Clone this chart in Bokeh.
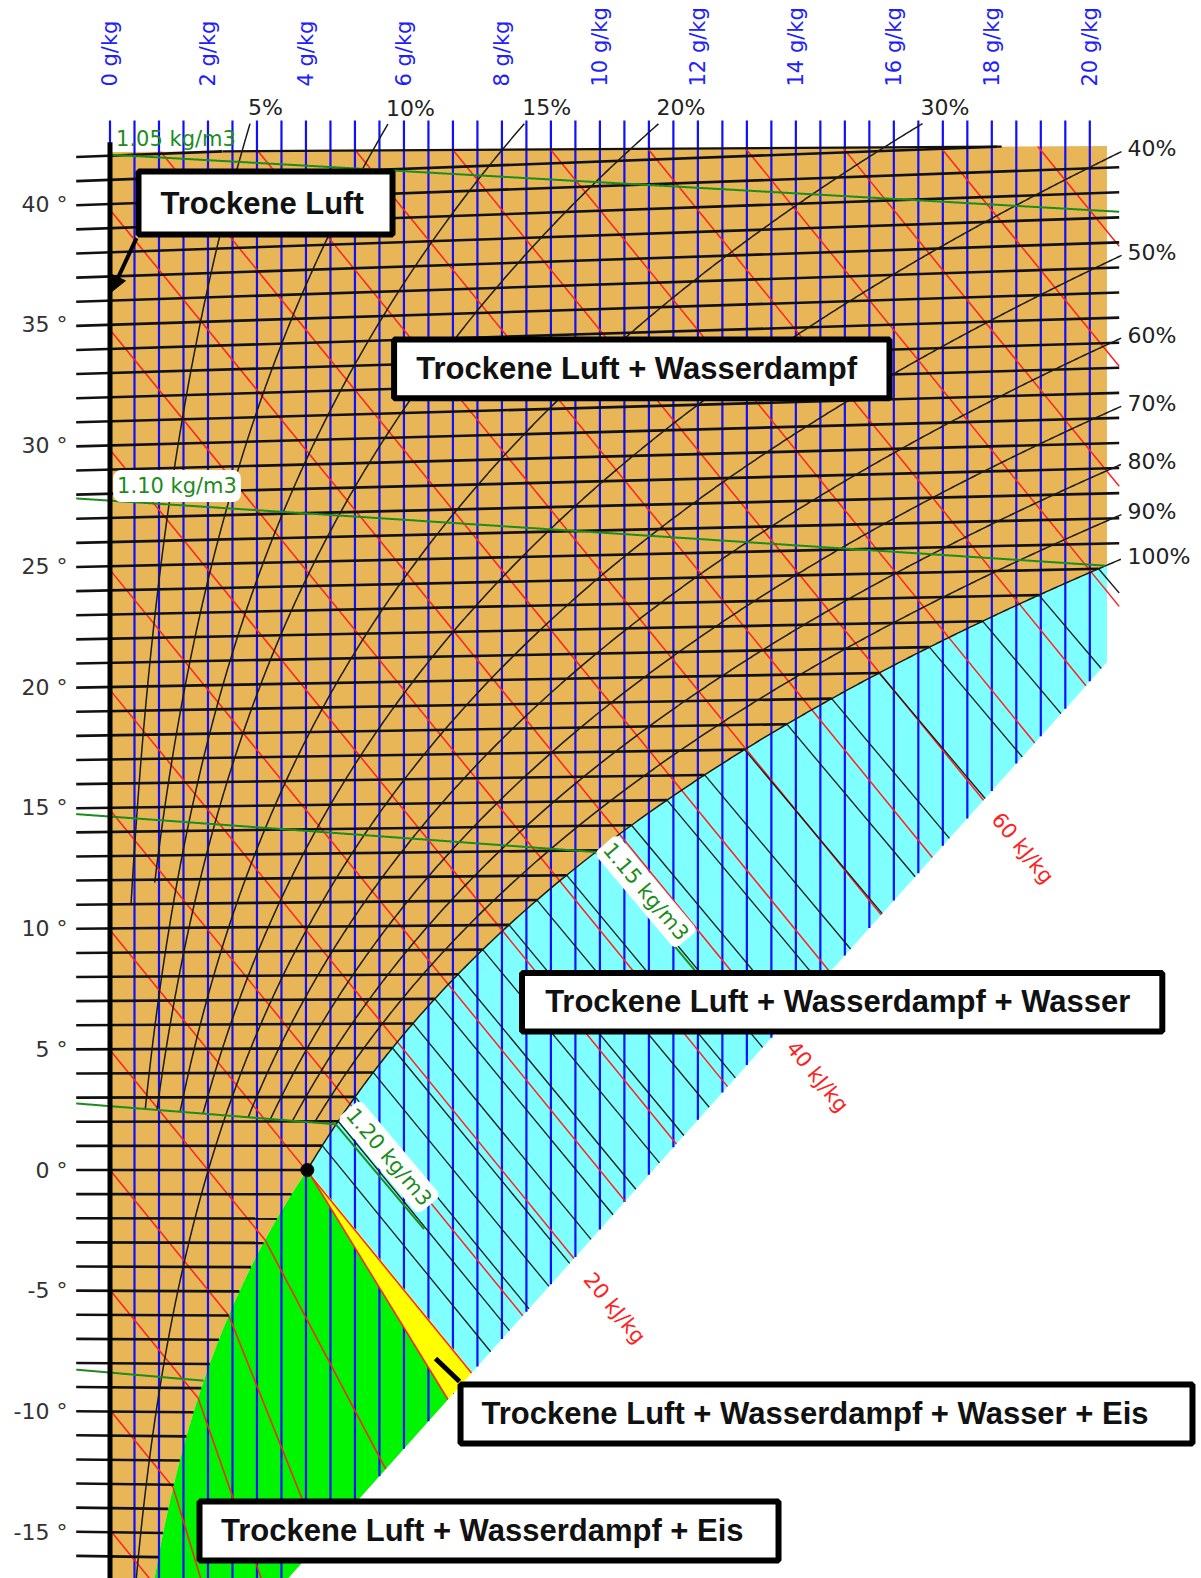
import math
import numpy as np
from bokeh.plotting import figure
from bokeh.models import Range1d, FixedTicker, Arrow, NormalHead
from bokeh.core.properties import value
from bokeh.embed import file_html
from bokeh.resources import INLINE

# ------------------------------------------------------------------ data
pressure_hpa = 950.0

# saturation vapour pressure tables (hPa)
sat_temp_water = list(range(-18, 46))
sat_press_water = [1.494, 1.625, 1.767, 1.918, 2.083, 2.259, 2.448, 2.652, 2.870,
                   3.105, 3.356, 3.625, 3.913, 4.222, 4.552, 4.904, 5.281, 5.683,
                   6.112, 6.571, 7.060, 7.581, 8.135, 8.725, 9.353, 10.020, 10.729,
                   11.481, 12.280, 13.128, 14.026, 14.979, 15.987, 17.055, 18.185,
                   19.380, 20.643, 21.979, 23.389, 24.878, 26.448, 28.105, 29.852,
                   31.693, 33.633, 35.674, 37.823, 40.084, 42.462, 44.961, 47.586,
                   50.345, 53.242, 56.280, 59.468, 62.812, 66.315, 69.988, 73.834,
                   77.860, 82.075, 86.485, 91.097, 95.918]
sat_temp_ice = list(range(-18, 1))
sat_press_ice = [1.249, 1.372, 1.507, 1.653, 1.812, 1.985, 2.173, 2.377, 2.599,
                 2.839, 3.100, 3.382, 3.687, 4.018, 4.375, 4.761, 5.177, 5.627, 6.112]

humidity_ticks = [0, 2, 4, 6, 8, 10, 12, 14, 16, 18, 20]
humidity_grid = [0.0, 0.5, 1.0, 1.5, 2.0, 2.5, 3.0, 3.5, 4.0, 4.5, 5.0, 5.5, 6.0, 6.5,
                 7.0, 7.5, 8.0, 8.5, 9.0, 9.5, 10.0, 10.5, 11.0, 11.5, 12.0, 12.5,
                 13.0, 13.5, 14.0, 14.5, 15.0, 15.5, 16.0, 16.5, 17.0, 17.5, 18.0,
                 18.5, 19.0, 19.5, 20.0]
temperature_ticks = [-15, -10, -5, 0, 5, 10, 15, 20, 25, 30, 35, 40]
isotherm_temps = list(range(-16, 43))
fog_isotherm_temps = list(range(1, 25))

rh_levels = [5, 10, 15, 20, 30, 40, 50, 60, 70, 80, 90]
rh_top_labels = [5, 10, 15, 20, 30]
rh_right_labels = [40, 50, 60, 70, 80, 90]
rh_lower_end = {5: 11.0, 10: 11.9, 50: None}      # others end on the 1.20 kg/m3 line

density_levels = [1.05, 1.10, 1.15, 1.20, 1.25]
density_start = {1.05: 0.0}                       # others start at the tick column
density_fog_tail = {1.15: 2.2, 1.20: 1.8}         # g/kg length in the fog zone
density_fog_slope = -2.414

enthalpy_levels = list(range(-15, 95, 5))
enthalpy_labels = [20, 40, 60]
enthalpy_label_x = [10.30, 14.44, 18.63]
ice_fog_enthalpy = [5, 0, -5, -10]
ice_fog_slope = [-3.85, -5.07, -5.80, -6.7]
ice_edge_slope = -3.31

# chart outline (g/kg, temperature units)
chart_right = 20.35
line_end = 20.6
tick_start = -0.69
top_left_Y, top_right_Y = 42.15, 42.4
boundary_x = [3.633, 20.32]
boundary_Y = [-16.915, 20.96]
blue_top_Y = 43.46
rh_top_Y = 43.33
axis_top_Y = 42.56
Y_ext = -18.0

# ------------------------------------------------------------------ physics helpers
def ps_w(T):
    return np.exp(np.interp(T, sat_temp_water, np.log(sat_press_water)))


def ps_i(T):
    return np.exp(np.interp(T, sat_temp_ice, np.log(sat_press_ice)))


def x_of_pv(pv):
    return 622.0 * pv / (pressure_hpa - pv)


def Y_of(T, x):
    return T * (1.0 + 0.00186 * x / 1.006)


def Y_h(h, x):
    return (h - 2.501 * x) / 1.006


def T_rho(rho, x):
    xk = x / 1000.0
    return pressure_hpa * 100.0 * (1 + xk) / (287.05 * rho * (1 + 1.6078 * xk)) - 273.15


sb = (boundary_Y[1] - boundary_Y[0]) / (boundary_x[1] - boundary_x[0])


def Yb(x):
    return boundary_Y[0] + sb * (x - boundary_x[0])


def hit_boundary(x0, Y0, m):
    return (Y0 - m * x0 - boundary_Y[0] + sb * boundary_x[0]) / (sb - m)


def Ytop(x):
    return top_left_Y + (top_right_Y - top_left_Y) * x / chart_right


# saturation curves
Ti = np.arange(-18.0, 0.0001, 0.05)
xi = x_of_pv(ps_i(Ti))
Yi = Y_of(Ti, xi)
Tw = np.arange(0.0, 26.0, 0.02)
xw = x_of_pv(ps_w(Tw))
Yw = Y_of(Tw, xw)
x0p, Y0p = xw[0], Yw[0]
h0 = 2.501 * x0p
T_r = np.interp(chart_right, xw, Tw)
Y_r = Y_of(T_r, chart_right)
mw = xw <= chart_right

# ------------------------------------------------------------------ figure
W, H = 1201, 1578
FL, FT = 72, 92
x_left = (FL - 109.5) / 48.99
x_right = (W - 109.5) / 48.99
y_top = (1169.5 - FT) / 24.15
y_bottom = (1169.5 - H) / 24.15
ppx = (W - FL) / (x_right - x_left)
ppy = (H - FT) / (y_top - y_bottom)

p = figure(width=W, height=H, x_range=Range1d(x_left, x_right),
           y_range=Range1d(y_bottom, y_top), output_backend="svg",
           toolbar_location=None, x_axis_location="above",
           min_border_left=FL, min_border_right=0, min_border_top=FT,
           min_border_bottom=0)
p.grid.visible = False
p.outline_line_color = None
p.background_fill_color = "white"
p.border_fill_color = "white"

xa = p.xaxis[0]
xa.ticker = FixedTicker(ticks=humidity_ticks)
xa.major_label_overrides = {t: f"{t} g/kg" for t in humidity_ticks}
xa.major_label_orientation = math.pi / 2
xa.major_label_text_color = "#2020ff"
xa.major_label_text_font = "DejaVu Sans"
xa.major_label_text_font_size = "21px"
xa.major_label_standoff = 6
xa.major_tick_out = 0
xa.major_tick_in = 0
xa.minor_tick_out = 0
xa.minor_tick_in = 0
xa.major_tick_line_color = None
xa.minor_tick_line_color = None
xa.axis_line_color = None

ya = p.yaxis[0]
ya.ticker = FixedTicker(ticks=temperature_ticks)
ya.major_label_overrides = {t: f"{t} °" for t in temperature_ticks}
ya.major_label_text_color = "#333333"
ya.major_label_text_font = "DejaVu Sans"
ya.major_label_text_font_size = "22px"
ya.major_label_standoff = 5
ya.major_tick_out = 0
ya.major_tick_in = 0
ya.minor_tick_out = 0
ya.minor_tick_in = 0
ya.major_tick_line_color = None
ya.minor_tick_line_color = None
ya.axis_line_color = None

ORANGE = "#E8B656"
CYAN = "#80FFFF"
GREEN = "#00F500"
YELLOW = "#FFFF00"
BLUE = "#1010FF"
RED = "#FF2020"
DGREEN = "#1C8C1C"

# ---- regions
ox = [0.0, 0.0, chart_right, chart_right] + list(xw[mw][::-1]) + list(xi[::-1]) + [0.0]
oy = [Y_ext, top_left_Y, top_right_Y, Y_r] + list(Yw[mw][::-1]) + list(Yi[::-1]) + [Y_ext]
p.patch(ox, oy, fill_color=ORANGE, line_color=None)

xc_h0 = hit_boundary(x0p, Y0p, -2.501 / 1.006)
cx = list(xw[mw]) + [chart_right, chart_right, xc_h0]
cy = list(Yw[mw]) + [Y_r, Yb(chart_right), Yb(xc_h0)]
p.patch(cx, cy, fill_color=CYAN, line_color=None)

xc_ice = hit_boundary(x0p, Y0p, ice_edge_slope)
x_b_ext = boundary_x[0] + (Y_ext - boundary_Y[0]) / sb
gx = [x0p, xc_ice, x_b_ext] + list(xi)
gy = [Y0p, Yb(xc_ice), Y_ext] + list(Yi)
p.patch(gx, gy, fill_color=GREEN, line_color=None)

# ---- blue humidity lines
bx, by = [], []
for g in humidity_grid:
    bottom = max(Yb(g), Y_ext)
    bx.append([g, g])
    by.append([blue_top_Y, bottom])
p.multi_line(bx, by, line_color=BLUE, line_width=2.2)

yx = [x0p, xc_h0, xc_ice]
yy = [Y0p, Yb(xc_h0), Yb(xc_ice)]
p.patch(yx, yy, fill_color=YELLOW, line_color=None)

# ---- red isenthalps
h_ice_curve = 1.006 * Yi + 2.501 * xi
rx, ry = [], []
for h in enthalpy_levels:
    xs = (h - 1.006 * top_left_Y) / (2.501 + 1.006 * (top_right_Y - top_left_Y) / chart_right)
    xs = max(0.0, xs)
    if xs > line_end:
        continue
    if h >= h0 - 0.5:
        xe = min(hit_boundary(0.0, Y_h(h, 0.0), -2.501 / 1.006), line_end)
    else:
        Tc = np.interp(h, h_ice_curve, Ti)
        xe = x_of_pv(ps_i(Tc))
    rx.append([xs, xe])
    ry.append([Y_h(h, xs), Y_h(h, xe)])
# ice-fog continuations
for h, m in zip(ice_fog_enthalpy, ice_fog_slope):
    Tc = np.interp(h, h_ice_curve, Ti)
    xa0 = x_of_pv(ps_i(Tc))
    Ya0 = Y_of(Tc, xa0)
    xe = hit_boundary(xa0, Ya0, m)
    rx.append([xa0, xe])
    ry.append([Ya0, Ya0 + m * (xe - xa0)])
rx.append([x0p, xc_ice])
ry.append([Y0p, Yb(xc_ice)])
p.multi_line(rx, ry, line_color=RED, line_width=1.5)

ang_h = math.atan2(-2.501 / 1.006 * ppy, ppx)
p.text(x=enthalpy_label_x, y=[Y_h(h, xl) for h, xl in zip(enthalpy_labels, enthalpy_label_x)],
       text=[f"{h} kJ/kg" for h in enthalpy_labels], angle=ang_h,
       text_align="center", text_baseline="middle", text_color=RED,
       text_font=value("DejaVu Sans"), text_font_size="21px")

# ---- black isotherms
ix, iy = [], []
k = 0.00186 / 1.006
slope_top = (top_right_Y - top_left_Y) / chart_right
for T in isotherm_temps:
    xs_sat = x_of_pv(ps_w(T)) if T >= 0 else x_of_pv(ps_i(T))
    xe = xs_sat if xs_sat <= chart_right else line_end
    if T * (1 + k * xe) > Ytop(xe):
        xe = (top_left_Y - T) / (T * k - slope_top)
    if xe <= tick_start:
        continue
    ix.append([tick_start, xe])
    iy.append([Y_of(T, tick_start), Y_of(T, xe)])
p.multi_line(ix, iy, line_color="#111111", line_width=2.6)
p.line([2.3, 18.2], [Ytop(2.3), Ytop(18.2)], line_color="#111111", line_width=2.2)

fx, fy = [], []
for T in fog_isotherm_temps:
    xs_ = x_of_pv(ps_w(T))
    Ys_ = Y_of(T, xs_)
    m = (0.00419 * T - 2.501) / 1.006
    xe = min(hit_boundary(xs_, Ys_, m), line_end)
    fx.append([xs_, xe])
    fy.append([Ys_, Ys_ + m * (xe - xs_)])
p.multi_line(fx, fy, line_color="#1a1a1a", line_width=1.3)

# ---- relative humidity curves
T_fine = np.arange(-18.0, 45.0, 0.02)
hx, hy, ends = [], [], {}
for phi in rh_levels:
    x = x_of_pv(phi / 100.0 * ps_w(T_fine))
    Y = Y_of(T_fine, x)
    keep = (Y <= rh_top_Y) & (x <= line_end + 0.05)
    lower = rh_lower_end.get(phi, "rho")
    if lower == "rho":
        keep &= T_fine >= T_rho(1.20, x)
    elif lower is not None:
        keep &= Y >= lower
    hx.append(list(x[keep]))
    hy.append(list(Y[keep]))
    ends[phi] = (x[keep][-1], Y[keep][-1])
sat_keep = xw <= line_end + 0.05
hx.append(list(xw[sat_keep]))
hy.append(list(Yw[sat_keep]))
ends[100] = (xw[sat_keep][-1], Yw[sat_keep][-1])
p.multi_line(hx, hy, line_color="#1a1a1a", line_width=1.5)

p.text(x=[ends[r][0] - 2 / ppx for r in rh_top_labels],
       y=[ends[r][1] + 16 / ppy for r in rh_top_labels],
       text=[f"{r}%" for r in rh_top_labels], text_align="left",
       text_baseline="middle", text_color="#222222",
       text_font=value("DejaVu Sans"), text_font_size="22px")
right_set = rh_right_labels + [100]
p.text(x=[(1127 - 109.5) / 48.99] * len(right_set),
       y=[ends[r][1] + 3 / ppy for r in right_set],
       text=[f"{r}%" for r in right_set], text_align="left",
       text_baseline="middle", text_color="#222222",
       text_font=value("DejaVu Sans"), text_font_size="22px")

# ---- density lines
dx_, dy_ = [], []
for rho in density_levels:
    x_den = np.arange(density_start.get(rho, tick_start), line_end + 0.001, 0.02)
    T = T_rho(rho, x_den)
    pv = pressure_hpa * x_den / (622.0 + x_den)
    ps = np.where(T >= 0, ps_w(T), ps_i(T))
    unsat = pv <= ps
    n = np.argmin(unsat) if not unsat.all() else len(unsat)
    xs_ = list(x_den[:n])
    Ys_ = list(Y_of(T[:n], x_den[:n]))
    if rho in density_fog_tail:
        L = density_fog_tail[rho]
        xs_.append(xs_[-1] + L)
        Ys_.append(Ys_[-1] + density_fog_slope * L)
    dx_.append(xs_)
    dy_.append(Ys_)
p.multi_line(dx_, dy_, line_color=DGREEN, line_width=2)

# ---- axis line and triple point
p.line([0, 0], [axis_top_Y, Y_ext], line_color="black", line_width=5)
p.scatter([x0p], [Y0p], size=13, color="black")

# ---- density labels
p.text(x=[1.347], y=[42.69], text=["1.05 kg/m3"], text_align="center",
       text_baseline="middle", text_color=DGREEN,
       text_font=value("DejaVu Sans"), text_font_size="21px")
p.text(x=[1.368], y=[28.32], text=["1.10 kg/m3"], text_align="center",
       text_baseline="middle", text_color=DGREEN,
       text_font=value("DejaVu Sans"), text_font_size="21px",
       background_fill_color="white", padding=4, border_radius=8)
ang_d = math.atan2(density_fog_slope * ppy, ppx)
p.text(x=[10.937, 5.695], y=[11.53, 0.538], text=["1.15 kg/m3", "1.20 kg/m3"],
       angle=ang_d, text_align="center", text_baseline="middle",
       text_color=DGREEN, text_font=value("DejaVu Sans"),
       text_font_size="21px", background_fill_color="white", padding=3,
       border_radius=6)

# ---- phase boxes
box_left = [0.582, 5.799, 8.410, 7.155, 1.827]
box_right = [5.767, 15.911, 21.480, 22.096, 13.646]
box_top = [41.346, 34.389, 8.157, -8.882, -13.727]
box_bottom = [38.737, 31.958, 5.735, -11.325, -16.170]
box_text = ["Trockene Luft", "Trockene Luft + Wasserdampf",
            "Trockene Luft + Wasserdampf + Wasser",
            "Trockene Luft + Wasserdampf + Wasser + Eis",
            "Trockene Luft + Wasserdampf + Eis"]
box_text_x = [1.031, 6.252, 8.882, 7.583, 2.266]
box_text_y = [40.02, 33.19, 6.957, -10.083, -14.928]

p.line([6.644, 7.134], [-7.805, -8.758], line_color="black", line_width=5)
p.add_layout(Arrow(end=NormalHead(size=16, fill_color="black", line_color="black"),
                   x_start=0.541, y_start=38.59, x_end=0.03, y_end=36.36,
                   line_width=4, line_color="black"))
p.quad(left=box_left, right=box_right, top=box_top, bottom=box_bottom,
       fill_color="white", line_color="black", line_width=6)
p.text(x=box_text_x, y=box_text_y, text=box_text, text_align="left",
       text_baseline="middle", text_color="#111111",
       text_font=value("Liberation Sans"), text_font_style="bold",
       text_font_size="31px")

open("out.html", "w").write(file_html(p, INLINE))
